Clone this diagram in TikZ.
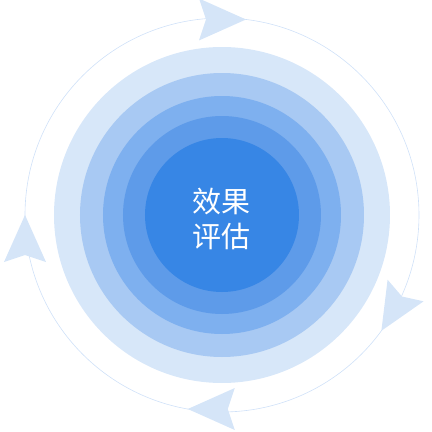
\documentclass[tikz,border=0pt]{standalone}
\usepackage{fontspec}
\newfontfamily\cjk{Noto Sans CJK SC}
\usepackage{tikz}
\definecolor{ringA}{HTML}{D7E7F9}
\definecolor{ringB}{HTML}{A8C9F3}
\definecolor{ringC}{HTML}{7EB0EF}
\definecolor{ringD}{HTML}{5E9BE9}
\definecolor{ringE}{HTML}{3786E5}
\definecolor{cycleline}{HTML}{CFE1F8}
\definecolor{cyclehead}{HTML}{D5E5F8}
\tikzset{
  headfill/.style={fill=cyclehead, draw=none},
  centerlabel/.style={text=white, align=center, font=\cjk\fontsize{29}{35}\selectfont}
}
\begin{document}
\begin{tikzpicture}[x=1pt, y=1pt]
        \useasboundingbox (-222,-217) rectangle (210,215);

        % thin outer cycle
        \draw[cycleline, line width=0.6pt] (0,0) circle (197);

        % arrowheads on the cycle (tip angle / direction)
        \foreach \a/\d in {83/0, -36/239, -100/180, 180/90}
            \fill[headfill, shift={(\a:197)}, rotate=\d]
                (0,0) -- (-47,21) -- (-40,0) -- (-47,-21) -- cycle;

        % concentric discs
        \fill[ringA] (0,0) circle (168);
        \fill[ringB] (0,0) circle (142);
        \fill[ringC] (0,0) circle (119);
        \fill[ringD] (0,0) circle (99);
        \fill[ringE] (0,0) circle (77);

        \node[centerlabel] (label) at (0,-4) {效果\\评估};
    \end{tikzpicture}
\end{document}
